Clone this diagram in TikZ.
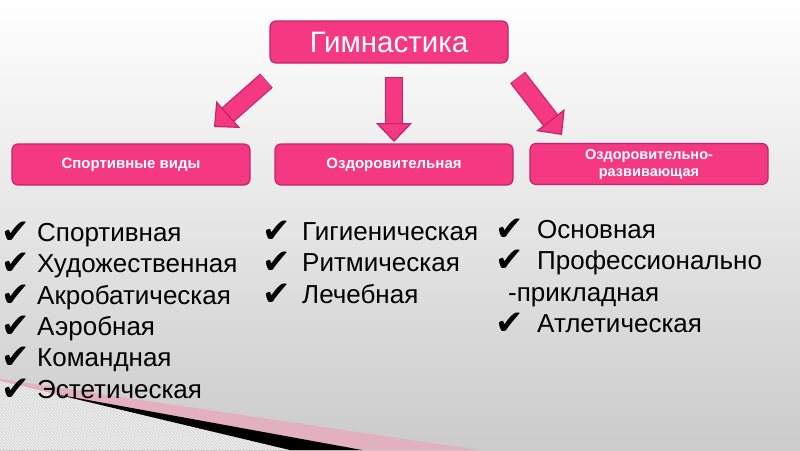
\documentclass[tikz,border=0pt]{standalone}
\usepackage{fontspec}
\setmainfont{Liberation Sans}
\newfontfamily\checkfont{DejaVu Sans}
\usetikzlibrary{arrows.meta, positioning, patterns}
\definecolor{gympink}{RGB}{244,56,130}
\definecolor{gymedge}{RGB}{196,36,104}
\definecolor{bggray}{RGB}{203,203,203}
\definecolor{stripepink}{RGB}{226,176,190}
\definecolor{hatchgray}{RGB}{214,214,214}
\tikzset{
    gymdiagram/.style={x=1pt, y=-1pt, font=\fontsize{26}{30}\selectfont},
    topbox/.style={draw=gymedge, fill=gympink, line width=1.2pt, rounded corners=6pt, minimum width=238pt, minimum height=42pt, text=white, font=\fontsize{29.5}{32}\selectfont},
    kindbox/.style={draw=gymedge, fill=gympink, line width=1.2pt, rounded corners=6pt, minimum width=238pt, minimum height=41pt, text=white, align=center, font=\bfseries\fontsize{15}{17}\selectfont},
    blockarrow/.style={draw=gympink, line width=16.5pt,
        -{Triangle[width=36pt, length=19pt, fill=gympink, color=gymedge, line width=1.2pt]},
        preaction={draw=gymedge, line width=18.9pt, -, shorten >=18pt, shorten <=-0.6pt}},
    item/.style={anchor=north west, inner sep=0pt, text height=19pt, text depth=6pt},
    % next line of a list: 31pt from baseline to baseline
    nextitem/.style={below=6pt of #1.south west, anchor=north west},
}
\newcommand{\listcheck}[1][42pt]{\makebox[#1][l]{\raisebox{-2pt}{\checkfont\fontsize{34}{34}\selectfont ✔}}}

\begin{document}
\begin{tikzpicture}[gymdiagram]
    \useasboundingbox (0,0) rectangle (800,450);
    \shade[top color=white, bottom color=bggray] (0,0) rectangle (800,450);

    % corner decoration
    \fill[stripepink] (0,379) -- (478,450) -- (0,450) -- cycle;
    \fill[hatchgray] (0,381) -- (290,450) -- (0,450) -- cycle;
    \fill[pattern=north west lines, pattern color=white] (0,381) -- (290,450) -- (0,450) -- cycle;
    \fill[black] (55,394) -- (362,450) -- (290,450) -- cycle;

    \node[topbox]  (gym)     at (389,42)  {Гимнастика};
    \node[kindbox] (sport)   at (131,164.5) {Спортивные виды};
    \node[kindbox] (health)  at (394,164.5) {Оздоровительная};
    \node[kindbox, font=\bfseries\fontsize{14.5}{17}\selectfont] (develop) at (649,164) {Оздоровительно-\\развивающая};

    \coordinate (l0) at (266,81);
    \coordinate (l1) at (214,127);
    \coordinate (m0) at (394,78);
    \coordinate (m1) at (394,142);
    \coordinate (r0) at (518,78);
    \coordinate (r1) at (562,135);
    \draw[blockarrow] (l0) -- (l1);
    \draw[blockarrow] (m0) -- (m1);
    \draw[blockarrow] (r0) -- (r1);

    % sport kinds
    \node[item] (sp1) at (1,222) {\listcheck[36pt]Спортивная};
    \node[item, nextitem=sp1] (sp2) {\listcheck[36pt]Художественная};
    \node[item, nextitem=sp2] (sp3) {\listcheck[36pt]Акробатическая};
    \node[item, nextitem=sp3] (sp4) {\listcheck[36pt]Аэробная};
    \node[item, nextitem=sp4] (sp5) {\listcheck[36pt]Командная};
    \node[item, nextitem=sp5] (sp6) {\listcheck[36pt]Эстетическая};

    % health kinds
    \node[item] (hl1) at (262,221) {\listcheck[40pt]Гигиеническая};
    \node[item, nextitem=hl1] (hl2) {\listcheck[40pt]Ритмическая};
    \node[item, nextitem=hl2] (hl3) {\listcheck[40pt]Лечебная};

    % developing kinds
    \node[item] (dv1) at (495,219) {\listcheck Основная};
    \node[item, nextitem=dv1] (dv2) {\listcheck Профессионально};
    \node[item, nextitem=dv2] (dv3) {\hspace{13pt}-прикладная};
    \node[item, nextitem=dv3] (dv4) {\listcheck Атлетическая};
\end{tikzpicture}
\end{document}
